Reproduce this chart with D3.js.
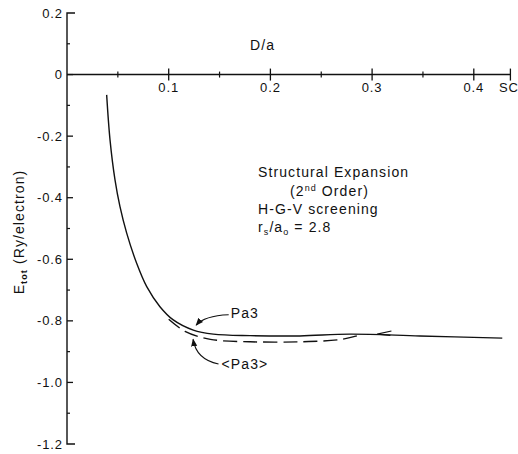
<!DOCTYPE html>
<html>
<head>
<meta charset="utf-8">
<title>Structural Expansion</title>
<script src="https://d3js.org/d3.v7.min.js"></script>
<style>
body { margin: 0; background: #fff; }
text { font-family: "Liberation Sans", Arial, sans-serif; fill: #111; }
.tick-label { font-size: 13px; letter-spacing: 0.9px; }
.note { font-size: 14px; letter-spacing: 1.1px; }
</style>
</head>
<body>
<div id="chart"></div>
<script>
// solid curve: Pa3
var pa3X = [0.039, 0.0423, 0.0472, 0.0521, 0.0587, 0.0685, 0.0784, 0.0914, 0.1045, 0.1242, 0.1439, 0.180, 0.229, 0.278, 0.347, 0.428];
var pa3E = [-0.066, -0.212, -0.342, -0.429, -0.515, -0.613, -0.689, -0.754, -0.797, -0.830, -0.843, -0.848, -0.849, -0.843, -0.849, -0.856];
// dashed curve: <Pa3>
var avgX = [0.100, 0.116, 0.141, 0.180, 0.229, 0.268, 0.285];
var avgE = [-0.795, -0.834, -0.860, -0.868, -0.868, -0.861, -0.849];

var xMajor = [0.1, 0.2, 0.3, 0.4];
var xMinor = [0.05, 0.15, 0.25, 0.35];
var scTick = 0.436;
var yMajor = [0.2, 0, -0.2, -0.4, -0.6, -0.8, -1.0, -1.2];
var yMinor = [0.1, -0.1, -0.3, -0.5, -0.7, -0.9, -1.1];
var yLabels = ["0.2", "0", "-0.2", "-0.4", "-0.6", "-0.8", "-1.0", "-1.2"];

var W = 518, H = 454;
var svg = d3.select("#chart").append("svg")
  .attr("width", W).attr("height", H);

var x = d3.scaleLinear().domain([0, 0.4]).range([67, 473.8]);
var y = d3.scaleLinear().domain([0.2, -1.2]).range([13, 444]);

var ink = "#111";

// y axis line with end stubs
svg.append("path")
  .attr("d", "M" + (x(0) + 8) + "," + y(0.2) + "H" + x(0) + "V" + y(-1.2) + "H" + (x(0) + 8))
  .attr("fill", "none").attr("stroke", ink).attr("stroke-width", 1.4);

svg.selectAll(".ymaj").data(yMajor.slice(1, -1)).enter().append("line")
  .attr("x1", x(0)).attr("x2", x(0) + 6)
  .attr("y1", d => y(d)).attr("y2", d => y(d))
  .attr("stroke", ink).attr("stroke-width", 1.3);
svg.selectAll(".ymin").data(yMinor).enter().append("line")
  .attr("x1", x(0)).attr("x2", x(0) + 3)
  .attr("y1", d => y(d)).attr("y2", d => y(d))
  .attr("stroke", ink).attr("stroke-width", 1.2);

svg.selectAll(".ylab").data(yMajor).enter().append("text")
  .attr("class", "tick-label")
  .attr("x", x(0) - 4).attr("y", d => y(d))
  .attr("dy", "0.35em").attr("text-anchor", "end")
  .text((d, i) => yLabels[i]);

// x axis at E = 0
svg.append("line")
  .attr("x1", x(0)).attr("x2", x(scTick))
  .attr("y1", y(0)).attr("y2", y(0))
  .attr("stroke", ink).attr("stroke-width", 1.4);
svg.selectAll(".xmaj").data(xMajor.concat([scTick])).enter().append("line")
  .attr("x1", d => x(d)).attr("x2", d => x(d))
  .attr("y1", y(0) - 6).attr("y2", y(0) + 6)
  .attr("stroke", ink).attr("stroke-width", 1.3);
svg.selectAll(".xmin").data(xMinor).enter().append("line")
  .attr("x1", d => x(d)).attr("x2", d => x(d))
  .attr("y1", y(0) - 3).attr("y2", y(0) + 3)
  .attr("stroke", ink).attr("stroke-width", 1.2);
svg.selectAll(".xlab").data(xMajor).enter().append("text")
  .attr("class", "tick-label")
  .attr("x", d => x(d)).attr("y", y(0) + 17)
  .attr("text-anchor", "middle")
  .text(d => d3.format(".1f")(d));
svg.append("text").attr("class", "tick-label")
  .attr("x", 499).attr("y", y(0) + 17)
  .text("SC");

svg.append("text").attr("class", "note")
  .attr("x", 250).attr("y", 50).text("D/a");

// y axis title
var yt = svg.append("text").attr("class", "note")
  .attr("transform", "translate(24,232) rotate(-90)")
  .attr("text-anchor", "middle");
yt.append("tspan").text("E");
yt.append("tspan").attr("font-size", 9).attr("font-weight", "bold").attr("dy", 3).text("tot");
yt.append("tspan").attr("dy", -3).text(" (Ry/electron)");

// curves
var line = d3.line().curve(d3.curveCatmullRom.alpha(0.5))
  .x(d => x(d[0])).y(d => y(d[1]));

svg.append("path")
  .attr("d", line(pa3X.map((v, i) => [v, pa3E[i]])))
  .attr("fill", "none").attr("stroke", ink).attr("stroke-width", 1.4);

svg.append("path")
  .attr("d", line(avgX.map((v, i) => [v, avgE[i]])))
  .attr("fill", "none").attr("stroke", ink).attr("stroke-width", 1.4)
  .attr("stroke-dasharray", "14,6");

// small tick mark where curves rejoin
svg.append("path")
  .attr("d", "M" + x(0.319) + "," + y(-0.833) + "L" + x(0.305) + "," + y(-0.843) + "L" + x(0.318) + "," + y(-0.847))
  .attr("fill", "none").attr("stroke", ink).attr("stroke-width", 1.2);

// annotations
svg.append("defs").append("marker")
  .attr("id", "arr").attr("viewBox", "0 0 10 10")
  .attr("refX", 9).attr("refY", 5)
  .attr("markerWidth", 7).attr("markerHeight", 7)
  .attr("orient", "auto")
  .append("path").attr("d", "M0,1L10,5L0,9Z").attr("fill", ink);

svg.append("path")
  .attr("d", "M" + x(0.159) + "," + y(-0.780) + "Q" + x(0.135) + "," + y(-0.783) + " " + x(0.127) + "," + y(-0.814))
  .attr("fill", "none").attr("stroke", ink).attr("stroke-width", 1.1)
  .attr("marker-end", "url(#arr)");
svg.append("text").attr("class", "note")
  .attr("x", x(0.161)).attr("y", y(-0.790)).text("Pa3");

svg.append("path")
  .attr("d", "M" + x(0.149) + "," + y(-0.940) + "Q" + x(0.127) + "," + y(-0.925) + " " + x(0.124) + "," + y(-0.860))
  .attr("fill", "none").attr("stroke", ink).attr("stroke-width", 1.1)
  .attr("marker-end", "url(#arr)");
svg.append("text").attr("class", "note")
  .attr("x", x(0.152)).attr("y", y(-0.958)).text("<Pa3>");

// caption block
var cap = svg.append("g").attr("class", "note");
cap.append("text").attr("x", 258).attr("y", 177).text("Structural  Expansion");
var c2 = cap.append("text").attr("x", 290).attr("y", 196);
c2.append("tspan").text("(2");
c2.append("tspan").attr("font-size", 9).attr("dy", -5).text("nd");
c2.append("tspan").attr("dy", 5).text(" Order)");
cap.append("text").attr("x", 258).attr("y", 214).text("H-G-V  screening");
var c4 = cap.append("text").attr("x", 258).attr("y", 232);
c4.append("tspan").text("r");
c4.append("tspan").attr("font-size", 9).attr("dy", 3).text("s");
c4.append("tspan").attr("dy", -3).text("/a");
c4.append("tspan").attr("font-size", 9).attr("dy", 3).text("o");
c4.append("tspan").attr("dy", -3).text("  =  2.8");
</script>
</body>
</html>
